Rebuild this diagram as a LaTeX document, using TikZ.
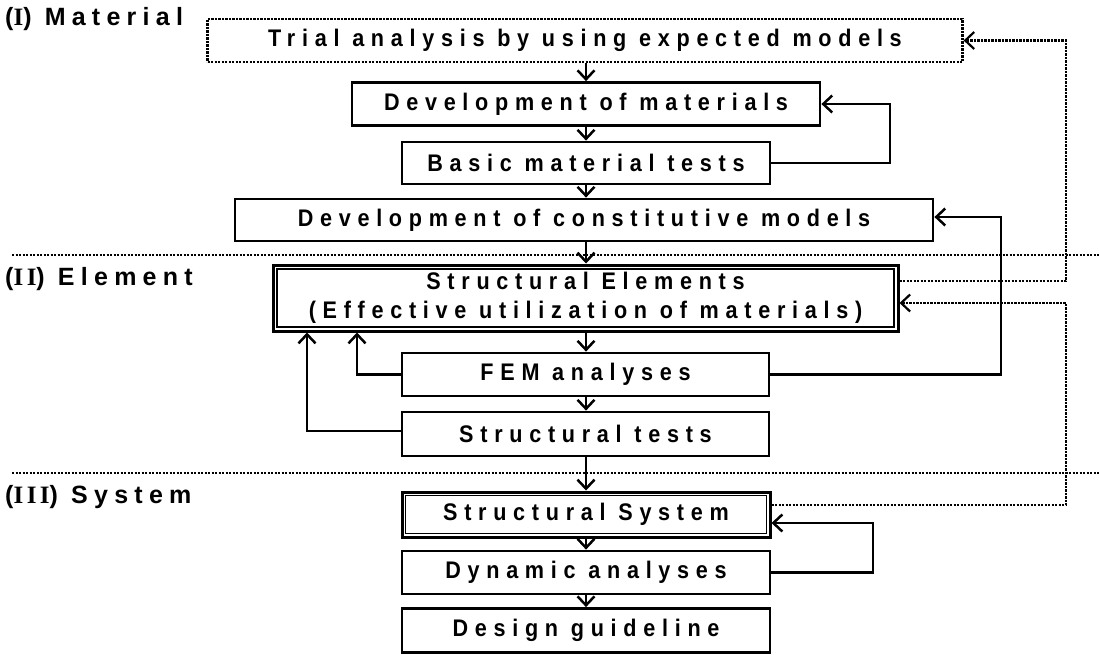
\documentclass[tikz,border=0pt]{standalone}
\usepackage{fontspec}
\setmainfont{Liberation Sans}
\newfontfamily\boxfam{Liberation Sans}[FakeStretch=0.9, LetterSpace=28]
\newfontfamily\labfam{Liberation Sans}[LetterSpace=25]
\newfontfamily\romfam{Liberation Serif}[LetterSpace=14]
\usetikzlibrary{arrows.meta}

\newcommand{\boxtext}{\boxfam\bfseries\fontsize{24}{29}\selectfont}
\newcommand{\labtext}{\labfam\bfseries\fontsize{25}{30}\selectfont}
\newcommand{\rom}[1]{{\romfam\bfseries #1}}

\begin{document}
\begin{tikzpicture}[x=1pt, y=-1pt,
  stage/.style={draw, line width=2.8pt, inner sep=0pt, align=center,
    font=\boxtext, minimum height=43pt},
  dotbox/.style={stage, line width=2.2pt, dash pattern=on 2.2pt off 1.3pt},
  arr/.style={line width=2.5pt, -{Straight Barb[length=9pt, width=17pt]}},
  dotarr/.style={arr, line width=2.2pt, dash pattern=on 2.2pt off 1.3pt},
  sep/.style={line width=2.2pt, dash pattern=on 2.2pt off 1.3pt},
  inner/.style={line width=1.8pt},
  phase/.style={anchor=base west, inner sep=0pt, font=\labtext}]

\useasboundingbox (0,0) rectangle (1099,654);

% phase separators and titles
\draw[sep] (12,255) -- (1099,255);
\draw[sep] (12,473) -- (1099,473);
\node[phase] (p1) at (5,25)  {(\rom{I}) Material};
\node[phase] (p2) at (5,285) {(\rom{II}) Element};
\node[phase] (p3) at (5,503) {(\rom{III}) System};

% stages of the flow
\node[dotbox, minimum width=755pt] (trial) at (585,40.5)
  {Trial analysis by using expected models};
\node[stage, minimum width=468pt] (devmat) at (586,104)
  {Development of materials};
\node[stage, minimum width=368pt, minimum height=42pt] (basic) at (586,163)
  {Basic material tests};
\node[stage, minimum width=698pt, minimum height=42pt] (devcon) at (584,220)
  {Development of constitutive models};
\node[stage, line width=3pt, minimum width=625pt, minimum height=66pt] (elem) at (585.5,298)
  {Structural Elements\\(Effective utilization of materials)};
\node[stage, minimum width=367pt] (fem) at (585.5,374.5) {FEM analyses};
\node[stage, minimum width=367pt, minimum height=44pt] (stest) at (585.5,434)
  {Structural tests};
\node[stage, line width=3pt, minimum width=368pt, minimum height=45pt] (sys) at (586,514.5)
  {Structural System};
\node[stage, minimum width=368pt] (dyn) at (586,572.5) {Dynamic analyses};
\node[stage, minimum width=368pt, minimum height=44pt] (guide) at (586,630.5)
  {Design guideline};

% inner lines of the double frames
\draw[inner] ([shift={(5.5pt,-5.5pt)}]elem.north west) rectangle ([shift={(-5.5pt,5.5pt)}]elem.south east);
\draw[inner] ([shift={(5pt,-5pt)}]sys.north west) rectangle ([shift={(-5pt,5pt)}]sys.south east);

% main downward flow
\draw[arr] (trial.south -| devmat.north) -- (devmat.north);
\draw[arr] (devmat.south) -- (basic.north);
\draw[arr] (basic.south) -- (basic.south |- devcon.north);
\draw[arr] (basic.south |- devcon.south) -- (basic.south |- elem.north);
\draw[arr] (basic.south |- elem.south) -- (basic.south |- fem.north);
\draw[arr] (basic.south |- fem.south) -- (basic.south |- stest.north);
\draw[arr] (basic.south |- stest.south) -- (sys.north);
\draw[arr] (sys.south) -- (dyn.north);
\draw[arr] (dyn.south) -- (guide.north);

% feedback loops
\coordinate (k1) at (890,0);
\coordinate (k2) at (1001,0);
\coordinate (k3) at (1066,0);
\coordinate (k4) at (357,0);
\coordinate (k5) at (307,0);
\coordinate (k6) at (873,0);

\draw[arr] (basic.east) -- (basic.east -| k1) |- (devmat.east);
\draw[arr] (fem.east) -- (fem.east -| k2) |- ([yshift=3pt]devcon.east);
\draw[dotarr] ([yshift=17pt]elem.east) -- ([yshift=17pt]elem.east -| k3) |- (trial.east);
\draw[dotarr] ([yshift=9.5pt]sys.east) -- ([yshift=9.5pt]sys.east -| k3) |- ([yshift=-5pt]elem.east);
\draw[arr] (fem.west) -- (fem.west -| k4) -- (k4 |- elem.south);
\draw[arr] ([yshift=3pt]stest.west) -- ([yshift=3pt]stest.west -| k5) -- (k5 |- elem.south);
\draw[arr] (dyn.east) -- (dyn.east -| k6) |- ([yshift=-8.5pt]sys.east);

\end{tikzpicture}
\end{document}
